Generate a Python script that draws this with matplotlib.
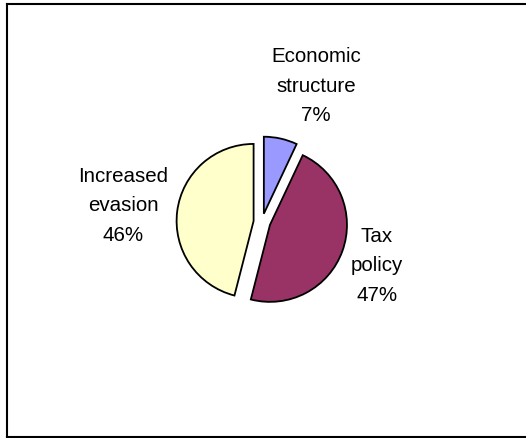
import matplotlib.pyplot as plt
from matplotlib.lines import Line2D

plt.rcParams['font.family'] = ['Liberation Sans', 'DejaVu Sans']

labels = ['Economic\nstructure', 'Tax\npolicy', 'Increased\nevasion']
shares = [7, 47, 46]
colors = ['#9999FF', '#993366', '#FFFFCC']

W, H = 526, 439
fig = plt.figure(figsize=(W / 100, H / 100), dpi=100)

# frame of the chart area (right side runs off the picture)
for xs, ys in [([7, 7], [5, 438]), ([7, 530], [5, 5]), ([7, 530], [438, 438])]:
    fig.add_artist(Line2D([x / W for x in xs], [1 - y / H for y in ys],
                          color='black', lw=1.5))

# pie centre ~ (262, 222) px, radius ~ 77 px
r = 77
cx, cy = 262, 223
ax = fig.add_axes([(cx - r) / W, 1 - (cy + r) / H, 2 * r / W, 2 * r / H])
wedges, texts = ax.pie(shares, colors=colors, startangle=90, counterclock=False,
                       explode=[0.11] * 3,
                       wedgeprops=dict(edgecolor='black', linewidth=1.3),
                       radius=1)
ax.set_xlim(-1, 1)
ax.set_ylim(-1, 1)
ax.set_aspect('auto')

label_pos = [(316, 86), (377, 266), (123, 206)]
for lab, val, (x, y) in zip(labels, shares, label_pos):
    fig.text(x / W, 1 - y / H, f'{lab}\n{val}%', ha='center', va='center',
             fontsize=14.8, linespacing=1.7)

fig.savefig('out.png', dpi=100)
